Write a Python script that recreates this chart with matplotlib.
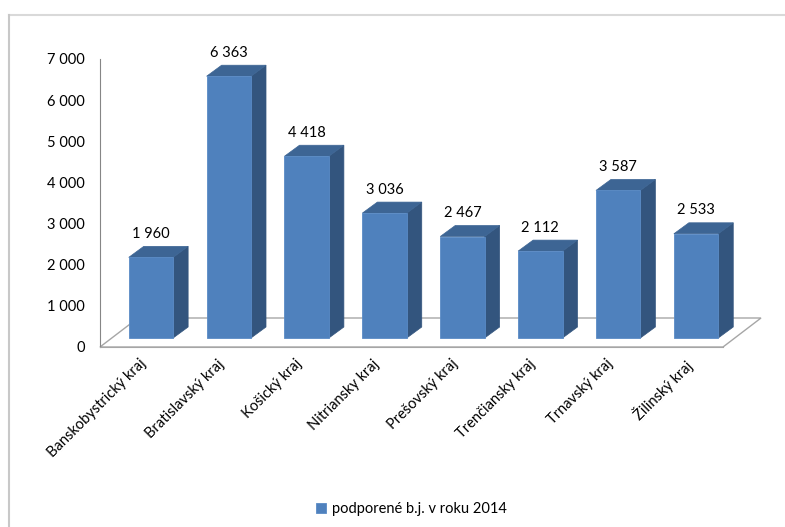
import matplotlib.pyplot as plt
from matplotlib.patches import Polygon, Rectangle
from matplotlib.lines import Line2D

# Data
regions = ['Banskobystrický kraj', 'Bratislavský kraj', 'Košický kraj', 'Nitriansky kraj',
           'Prešovský kraj', 'Trenčiansky kraj', 'Trnavský kraj', 'Žilinský kraj']
values = [1960, 6363, 4418, 3036, 2467, 2112, 3587, 2533]
value_labels = ['1 960', '6 363', '4 418', '3 036', '2 467', '2 112', '3 587', '2 533']
y_ticks = [0, 1000, 2000, 3000, 4000, 5000, 6000, 7000]
y_tick_labels = ['0', '1 000', '2 000', '3 000', '4 000', '5 000', '6 000', '7 000']
series_name = 'podporené b.j. v roku 2014'

front_col = '#4F81BD'
top_col = '#3D6594'
side_col = '#33557E'
grid_col = '#A6A6A6'
fs = 10.5

plt.rcParams['font.family'] = ['Lato', 'DejaVu Sans']
plt.rcParams['font.size'] = fs

W, H = 785, 527
fig = plt.figure(figsize=(W / 100, H / 100), dpi=100)
ax = fig.add_axes([100 / W, (H - 347) / H, 623 / W, 288 / H])
ax.set_xlim(-0.5, len(regions) - 0.5)
ax.set_ylim(0, 7000)
ax.patch.set_visible(False)


def px2data(dx, dy):
    inv = ax.transData.inverted()
    x0, y0 = inv.transform((0, 0))
    x1, y1 = inv.transform((dx, dy))
    return x1 - x0, y1 - y0


# 3D offsets (pixels): floor depth, bar front offset, bar depth
fdx, fdy = px2data(38, 29)
bdx, bdy = px2data(12, 9)
ddx, ddy = px2data(15, 11)

# floor
n = len(regions)
floor = Polygon([(-0.5, 0), (n - 0.5, 0), (n - 0.5 + fdx, fdy), (-0.5 + fdx, fdy)],
                closed=True, facecolor='none', edgecolor=grid_col, lw=1.0,
                clip_on=False, zorder=1)
ax.add_patch(floor)

w = 0.57
for i, v in enumerate(values):
    x0 = i - w / 2 + bdx
    x1 = i + w / 2 + bdx
    y0 = bdy
    y1 = v + bdy
    front = Rectangle((x0, y0), w, v, facecolor=front_col, edgecolor='#5A8BC6',
                      lw=0.6, clip_on=False, zorder=3,
                      label=series_name if i == 0 else None)
    top = Polygon([(x0, y1), (x1, y1), (x1 + ddx, y1 + ddy), (x0 + ddx, y1 + ddy)],
                  closed=True, facecolor=top_col, edgecolor=top_col, lw=0.5,
                  clip_on=False, zorder=3)
    side = Polygon([(x1, y0), (x1 + ddx, y0 + ddy), (x1 + ddx, y1 + ddy), (x1, y1)],
                   closed=True, facecolor=side_col, edgecolor=side_col, lw=0.5,
                   clip_on=False, zorder=3)
    ax.add_patch(side)
    ax.add_patch(top)
    ax.add_patch(front)
    ax.annotate(value_labels[i], xy=(i + bdx, y1 + ddy), xytext=(0, 4),
                textcoords='offset points', ha='center', va='bottom',
                fontsize=fs, color='black')

# axes
for s in ['top', 'right']:
    ax.spines[s].set_visible(False)
ax.spines['left'].set_color('#868686')
ax.spines['bottom'].set_color(grid_col)
ax.set_yticks(y_ticks)
ax.set_yticklabels(y_tick_labels)
ax.tick_params(axis='y', length=0, pad=11, labelsize=fs)
ax.set_xticks(range(n))
ax.set_xticklabels(regions, rotation=45, ha='right', rotation_mode='anchor')
ax.tick_params(axis='x', length=0, pad=7, labelsize=fs)

# legend
handles, labels = ax.get_legend_handles_labels()
fig.legend(handles, labels, loc='center', bbox_to_anchor=(411 / W, (H - 509) / H),
           frameon=False, handlelength=0.7, handleheight=0.7, handletextpad=0.4,
           fontsize=fs)

# chart frame
fig.add_artist(Line2D([9 / W, 1], [1 - 15 / H, 1 - 15 / H], color='#D9D9D9', lw=1.5))
fig.add_artist(Line2D([9 / W, 9 / W], [0, 1 - 15 / H], color='#C8C8C8', lw=1.5))

fig.savefig('out.png', dpi=100)
